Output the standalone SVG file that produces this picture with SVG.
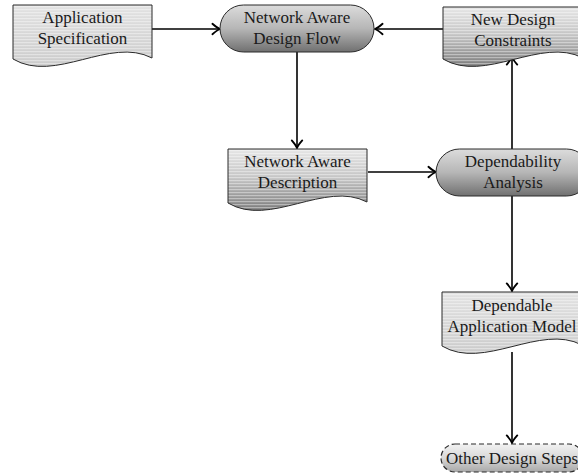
<svg xmlns="http://www.w3.org/2000/svg" width="578" height="474" viewBox="0 0 578 474">
  <defs>
    <style>
      .lbl { font-family: "Liberation Serif", "Times New Roman", serif; font-size: 17px; fill: #1a1a1a; text-anchor: middle; }
      .edge { fill: none; stroke: #000; stroke-width: 1.6; marker-end: url(#tip); }
      .border { fill: none; stroke: #2a2a2a; stroke-width: 1; }
      .dashed { fill: none; stroke: #2a2a2a; stroke-width: 1.2; stroke-dasharray: 5 3; }
    </style>
    <!-- open curved arrow tip -->
    <marker id="tip" markerUnits="userSpaceOnUse" markerWidth="14" markerHeight="14" viewBox="-8 -6 10 12" refX="0" refY="0" orient="auto">
      <path d="M-6.5,-4.5 Q-2.5,-1 0,0 Q-2.5,1 -6.5,4.5" fill="none" stroke="#000" stroke-width="1.6" stroke-linecap="round"/>
    </marker>
    <!-- terminal (rounded) shading -->
    <linearGradient id="termShade" x1="0" y1="0" x2="0" y2="1">
      <stop offset="0" stop-color="#dcdcdc"/>
      <stop offset="0.5" stop-color="#b6b6b6"/>
      <stop offset="1" stop-color="#707070"/>
    </linearGradient>
    <linearGradient id="lightTerm" x1="0" y1="0" x2="0" y2="1">
      <stop offset="0" stop-color="#f2f2f2"/>
      <stop offset="0.5" stop-color="#d8d8d8"/>
      <stop offset="1" stop-color="#a8a8a8"/>
    </linearGradient>
    <!-- document shadings -->
    <linearGradient id="docLight" x1="0" y1="0" x2="0" y2="1">
      <stop offset="0" stop-color="#e2e2e2"/>
      <stop offset="1" stop-color="#cbcbcb"/>
    </linearGradient>
    <linearGradient id="docDark" x1="0" y1="0" x2="0" y2="1">
      <stop offset="0" stop-color="#e6e6e6"/>
      <stop offset="0.45" stop-color="#c6c6c6"/>
      <stop offset="1" stop-color="#7c7c7c"/>
    </linearGradient>
    <pattern id="stripes" patternUnits="userSpaceOnUse" width="6" height="3">
      <rect width="6" height="1.2" fill="#ffffff" fill-opacity="0.4"/>
    </pattern>
  </defs>

  <!-- connectors -->
  <g id="connectors">
    <line class="edge" x1="152" y1="29" x2="220" y2="29"/>
    <line class="edge" x1="443" y1="29" x2="375" y2="29"/>
    <line class="edge" x1="297" y1="52" x2="297" y2="148"/>
    <line class="edge" x1="368" y1="172" x2="436" y2="172"/>
    <line class="edge" x1="512" y1="149" x2="512" y2="57"/>
    <line class="edge" x1="512" y1="196" x2="512" y2="291"/>
    <line class="edge" x1="512" y1="352" x2="512" y2="443"/>
  </g>

  <!-- Application Specification (document) -->
  <g id="app-spec">
    <path d="M13,5 H152 V58 C110,36 55,84 13,59 Z" fill="url(#docLight)"/>
    <path d="M13,5 H152 V58 C110,36 55,84 13,59 Z" fill="url(#stripes)"/>
    <path class="border" d="M13,5 H152 V58 C110,36 55,84 13,59 Z"/>
    <text class="lbl" x="82.5" y="23">Application</text>
    <text class="lbl" x="82.5" y="44">Specification</text>
  </g>

  <!-- Network Aware Design Flow (terminal) -->
  <g id="design-flow">
    <rect x="220" y="5" width="154" height="47" rx="23.5" fill="url(#termShade)"/>
    <rect class="border" x="220" y="5" width="154" height="47" rx="23.5"/>
    <text class="lbl" x="297" y="23">Network Aware</text>
    <text class="lbl" x="297" y="44">Design Flow</text>
  </g>

  <!-- New Design Constraints (document) -->
  <g id="new-constraints">
    <path d="M443,7 H583 V58 C541,36 485,84 443,59 Z" fill="url(#docDark)"/>
    <path d="M443,7 H583 V58 C541,36 485,84 443,59 Z" fill="url(#stripes)"/>
    <path class="border" d="M443,7 H583 V58 C541,36 485,84 443,59 Z"/>
    <text class="lbl" x="513" y="25">New Design</text>
    <text class="lbl" x="513" y="46">Constraints</text>
  </g>

  <!-- Network Aware Description (document) -->
  <g id="na-description">
    <path d="M228,149 H367 V202 C325,180 270,228 228,203 Z" fill="url(#docDark)"/>
    <path d="M228,149 H367 V202 C325,180 270,228 228,203 Z" fill="url(#stripes)"/>
    <path class="border" d="M228,149 H367 V202 C325,180 270,228 228,203 Z"/>
    <text class="lbl" x="297.5" y="167">Network Aware</text>
    <text class="lbl" x="297.5" y="188">Description</text>
  </g>

  <!-- Dependability Analysis (terminal) -->
  <g id="dependability">
    <rect x="436" y="149" width="154" height="47" rx="23.5" fill="url(#termShade)"/>
    <rect class="border" x="436" y="149" width="154" height="47" rx="23.5"/>
    <text class="lbl" x="513" y="167">Dependability</text>
    <text class="lbl" x="513" y="188">Analysis</text>
  </g>

  <!-- Dependable Application Model (document) -->
  <g id="dependable-model">
    <path d="M442,292 H582 V345 C540,323 484,371 442,346 Z" fill="url(#docLight)"/>
    <path d="M442,292 H582 V345 C540,323 484,371 442,346 Z" fill="url(#stripes)"/>
    <path class="border" d="M442,292 H582 V345 C540,323 484,371 442,346 Z"/>
    <text class="lbl" x="512" y="311">Dependable</text>
    <text class="lbl" x="512" y="332">Application Model</text>
  </g>

  <!-- Other Design Steps (dashed terminal) -->
  <g id="other-steps">
    <rect x="441" y="444" width="142" height="28" rx="14" fill="url(#lightTerm)"/>
    <rect class="dashed" x="441" y="444" width="142" height="28" rx="14"/>
    <text class="lbl" x="512" y="464">Other Design Steps</text>
  </g>
</svg>
